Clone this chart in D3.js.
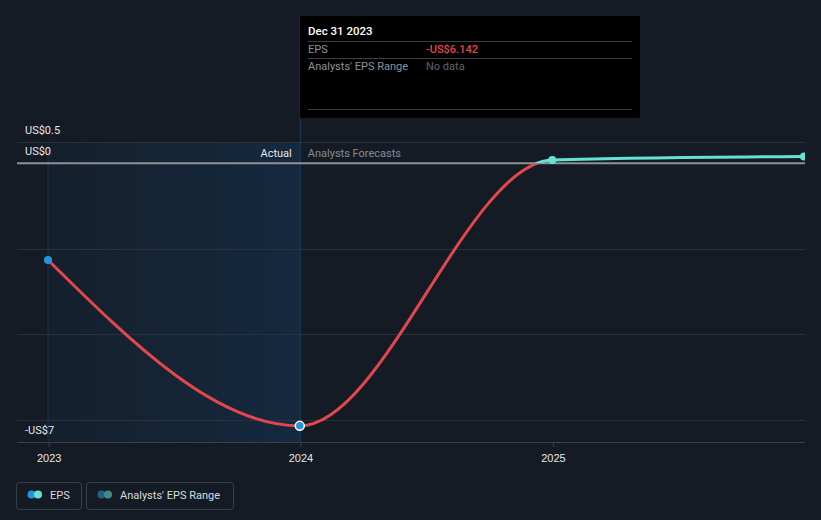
<!DOCTYPE html>
<html>
<head>
<meta charset="utf-8">
<script src="https://cdn.jsdelivr.net/npm/d3@7"></script>
<style>
  html, body { margin: 0; padding: 0; background: #151b24; }
  svg { display: block; font-family: Roboto, "Noto Sans", sans-serif; }
</style>
</head>
<body>
<svg id="chart" width="821" height="520"></svg>
<script>
// ---- data ----
const dates = ["2022-12-31", "2023-12-31", "2024-12-31", "2025-12-31"];
const eps = [-2.26, -6.142, 0.08, 0.16];
const yDomain = [-6.52, 0.5];
const gridValues = [0.5, 0, -2, -4, -6];
const yLabelValues = [0.5, 0, -6.52];
const yLabels = ["US$0.5", "US$0", "-US$7"];
const xTickDates = ["2023-01-01", "2024-01-01", "2025-01-01"];
const xTickLabels = ["2023", "2024", "2025"];
const actualEnd = "2023-12-31";
const tooltipDate = "Dec 31 2023";
const tooltipRows = [["EPS", "-US$6.142"], ["Analysts' EPS Range", "No data"]];
const legendItems = ["EPS", "Analysts' EPS Range"];

const parse = d3.timeParse("%Y-%m-%d");
const points = dates.map((d, i) => ({ date: parse(d), v: eps[i] }));

const svg = d3.select("#chart");
const W = 821, H = 520;
const plotL = 17, plotR = 805, plotT = 142, plotB = 442;

const x = d3.scaleTime().domain([parse(dates[0]), parse(dates[dates.length - 1])]).range([48, 804]);
const y = d3.scaleLinear().domain(yDomain).range([plotB, plotT]);

const defs = svg.append("defs");
const grad = defs.append("linearGradient").attr("id", "pastGrad").attr("x1", "0").attr("x2", "1").attr("y1", "0").attr("y2", "0");
grad.append("stop").attr("offset", "0").attr("stop-color", "rgb(20,70,120)").attr("stop-opacity", 0.1);
grad.append("stop").attr("offset", "1").attr("stop-color", "rgb(20,70,120)").attr("stop-opacity", 0.32);

defs.append("clipPath").attr("id", "plotClip").append("rect")
  .attr("x", plotL).attr("y", 0).attr("width", plotR - plotL).attr("height", plotB);
defs.append("clipPath").attr("id", "negClip").append("rect")
  .attr("x", plotL).attr("y", y(0)).attr("width", plotR - plotL).attr("height", plotB - y(0) + 10);
defs.append("clipPath").attr("id", "posClip").append("rect")
  .attr("x", plotL).attr("y", 0).attr("width", plotR - plotL).attr("height", y(0));

// past shading
svg.append("rect")
  .attr("x", x(points[0].date)).attr("y", plotT)
  .attr("width", x(parse(actualEnd)) - x(points[0].date)).attr("height", plotB - plotT)
  .attr("fill", "url(#pastGrad)");
svg.append("line")
  .attr("x1", x(points[0].date)).attr("x2", x(points[0].date))
  .attr("y1", plotT).attr("y2", plotB)
  .attr("stroke", "rgba(40,90,140,0.35)").attr("stroke-width", 1);

// gridlines
svg.append("g").selectAll("line").data(gridValues.filter(v => v !== 0)).join("line")
  .attr("x1", plotL).attr("x2", plotR)
  .attr("y1", d => Math.round(y(d)) + 0.5).attr("y2", d => Math.round(y(d)) + 0.5)
  .attr("stroke", "#2b313a").attr("stroke-width", 1);

// bottom axis
const xAxis = d3.axisBottom(x)
  .tickValues(xTickDates.map(parse))
  .tickFormat((d, i) => xTickLabels[i])
  .tickSize(5).tickSizeOuter(0);
const gx = svg.append("g").attr("transform", `translate(0,${plotB})`).call(xAxis);
gx.select(".domain").remove();
gx.selectAll(".tick line").attr("stroke", "#3a404a");
gx.selectAll(".tick text").attr("fill", "#e6e7e9").attr("font-size", 11).attr("dy", "1.05em");
svg.append("line").attr("x1", plotL).attr("x2", plotR).attr("y1", plotB + 0.5).attr("y2", plotB + 0.5)
  .attr("stroke", "#3a404a").attr("stroke-width", 1);

// hover line
svg.append("line")
  .attr("x1", x(parse(actualEnd)) + 0.5).attr("x2", x(parse(actualEnd)) + 0.5)
  .attr("y1", 16).attr("y2", plotB)
  .attr("stroke", "#1f3e5c").attr("stroke-width", 1);

// zero line
svg.append("line").attr("x1", plotL).attr("x2", plotR).attr("y1", y(0)).attr("y2", y(0))
  .attr("stroke", "#8d9299").attr("stroke-width", 2);

// y labels
svg.append("g").selectAll("text").data(yLabelValues).join("text")
  .attr("x", 25).attr("y", d => y(d) - 8)
  .attr("fill", "#e6e7e9").attr("font-size", 11)
  .text((d, i) => yLabels[i]);

// Actual / Forecasts labels
svg.append("text").attr("x", x(parse(actualEnd)) - 8).attr("y", y(0) - 6)
  .attr("text-anchor", "end").attr("fill", "#e6e7e9").attr("font-size", 11).text("Actual");
svg.append("text").attr("x", x(parse(actualEnd)) + 8).attr("y", y(0) - 6)
  .attr("fill", "#868b93").attr("font-size", 11).text("Analysts Forecasts");

// line
const line = d3.line().x(d => x(d.date)).y(d => y(d.v)).curve(d3.curveMonotoneX);
const lineG = svg.append("g").attr("clip-path", "url(#plotClip)");
lineG.append("g").attr("clip-path", "url(#negClip)").append("path")
  .datum(points).attr("d", line).attr("fill", "none")
  .attr("stroke", "#e2474c").attr("stroke-width", 3);
lineG.append("g").attr("clip-path", "url(#posClip)").append("path")
  .datum(points).attr("d", line).attr("fill", "none")
  .attr("stroke", "#64e2d2").attr("stroke-width", 3);

// dots
lineG.selectAll("circle").data(points).join("circle")
  .attr("cx", d => x(d.date)).attr("cy", d => y(d.v))
  .attr("r", (d, i) => i === 1 ? 4.5 : 4)
  .attr("fill", d => d.date <= parse(actualEnd) ? "#2394df" : "#64e2d2")
  .attr("stroke", (d, i) => i === 1 ? "#ffffff" : "none")
  .attr("stroke-width", 1.5);

// tooltip
const tt = svg.append("g");
tt.append("rect").attr("x", 300).attr("y", 16).attr("width", 340).attr("height", 102).attr("fill", "#000000");
tt.append("text").attr("x", 308).attr("y", 35).attr("fill", "#ffffff").attr("font-size", 11.5)
  .attr("font-weight", 500).text(tooltipDate);
[41.5, 58.5, 109.5].forEach(yy => {
  tt.append("line").attr("x1", 308).attr("x2", 632).attr("y1", yy).attr("y2", yy)
    .attr("stroke", "#3c3f44").attr("stroke-width", 1);
});
tooltipRows.forEach((r, i) => {
  const by = 53 + i * 17;
  tt.append("text").attr("x", 308).attr("y", by).attr("fill", "#8e9298").attr("font-size", 11).text(r[0]);
  tt.append("text").attr("x", 426).attr("y", by)
    .attr("fill", i === 0 ? "#e5474d" : "#5f636a").attr("font-size", 11)
    .attr("font-weight", i === 0 ? 500 : 400).text(r[1]);
});

// legend
const legendBoxes = [{ x: 16.5, w: 65, c1: "#2394df", c2: "#64e2d2" }, { x: 86.5, w: 147, c1: "#255e89", c2: "#3e8c84" }];
const lg = svg.append("g");
legendItems.forEach((t, i) => {
  const b = legendBoxes[i];
  lg.append("rect").attr("x", b.x).attr("y", 482.5).attr("width", b.w).attr("height", 27).attr("rx", 3)
    .attr("fill", "none").attr("stroke", "#3a404a").attr("stroke-width", 1);
  lg.append("circle").attr("cx", b.x + 15).attr("cy", 494.5).attr("r", 4).attr("fill", b.c1);
  lg.append("circle").attr("cx", b.x + 21.5).attr("cy", 494.5).attr("r", 4).attr("fill", b.c2);
  lg.append("text").attr("x", b.x + 33.5).attr("y", 499).attr("fill", "#d9dbde").attr("font-size", 11).text(t);
});
</script>
</body>
</html>
